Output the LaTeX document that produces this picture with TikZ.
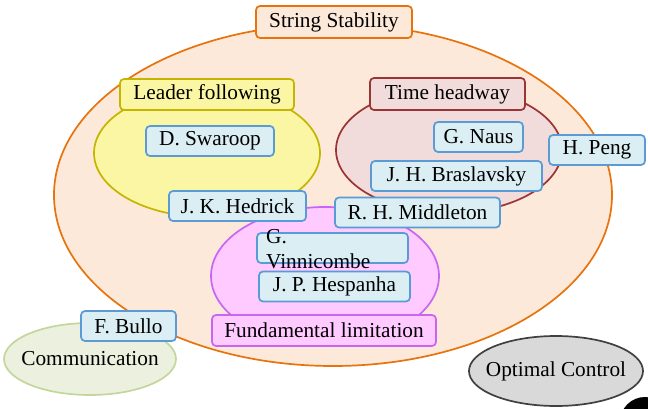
\documentclass[tikz,border=0pt]{standalone}
\usepackage{fontspec}
\setmainfont{Liberation Serif}
\usetikzlibrary{shapes.geometric}
\definecolor{naranjaBorde}{HTML}{E8720C}
\definecolor{naranjaFondo}{HTML}{FDE9D9}
\definecolor{amarilloBorde}{HTML}{C4B600}
\definecolor{amarilloFondo}{HTML}{FBF6A3}
\definecolor{rojoBorde}{HTML}{9A3533}
\definecolor{rojoFondo}{HTML}{F2DCDB}
\definecolor{rosaBorde}{HTML}{C766F5}
\definecolor{rosaFondo}{HTML}{FFCAFF}
\definecolor{azulBorde}{HTML}{5B9BD5}
\definecolor{azulFondo}{HTML}{DAEEF3}
\definecolor{verdeBorde}{HTML}{C3D69B}
\definecolor{verdeFondo}{HTML}{EBF1DE}
\definecolor{grisBorde}{HTML}{404040}
\definecolor{grisFondo}{HTML}{D9D9D9}
\tikzset{
  letraBase/.style={font=\fontsize{21.3}{25}\selectfont, text=black},
  cajaBase/.style={
    draw, line width=1.7pt, rounded corners=4pt,
    inner sep=0pt, align=center, letraBase
  },
  cajaAutor/.style={cajaBase, draw=azulBorde, fill=azulFondo,
    minimum height=30pt, minimum width=#1},
  cajaTema/.style={cajaBase, draw=#1Borde, fill=#1Fondo, minimum height=31pt},
  elipseTema/.style={ellipse, draw=#1Borde, fill=#1Fondo, line width=1.7pt,
    inner sep=0pt},
  textoElipse/.style={label={[letraBase]center:#1}},
}
\begin{document}
\begin{tikzpicture}[x=1pt, y=-1pt]
    \useasboundingbox (0,0) rectangle (648,409);

    % Conjuntos
    \node[elipseTema=naranja, minimum width=558pt, minimum height=342pt] (elipseString) at (333,195) {};
    \node[elipseTema=amarillo, minimum width=226pt, minimum height=128pt] (elipseLeader) at (207,153) {};
    \node[elipseTema=rojo, minimum width=226pt, minimum height=126pt] (elipseTime) at (449,150) {};
    \node[elipseTema=rosa, minimum width=228pt, minimum height=138pt] (elipseFund) at (325,276) {};
    \node[elipseTema=verde, minimum width=172pt, minimum height=72pt,
          textoElipse=Communication] (comunicacion) at (90,359) {};
    \node[elipseTema=gris, minimum width=174pt, minimum height=70pt,
          textoElipse=Optimal Control] (optimo) at (556,371) {};
    \node[circle, fill=black, minimum size=50pt, inner sep=0pt] (punto) at (645,422) {};

    % Etiquetas de los conjuntos
    \node[cajaTema=naranja, minimum width=156pt, minimum height=32pt] (tituloString) at (334,22) {String Stability};
    \node[cajaTema=amarillo, minimum width=174pt] (tituloLeader) at (207,94.5) {Leader following};
    \node[cajaTema=rojo, minimum width=155pt, minimum height=32pt] (tituloTime) at (447.5,94) {Time headway};
    \node[cajaTema=rosa, minimum width=224pt] (tituloFund) at (324,330.5) {Fundamental limitation};

    % Autores
    \node[cajaAutor=128pt] (swaroop) at (210,141) {D. Swaroop};
    \node[cajaAutor=89pt] (naus) at (478.5,137) {G. Naus};
    \node[cajaAutor=96pt] (peng) at (597,150) {H. Peng};
    \node[cajaAutor=171pt] (braslavsky) at (456.5,176) {J. H. Braslavsky};
    \node[cajaAutor=165pt] (middleton) at (417.5,212.5) {R. H. Middleton};
    \node[cajaAutor=137pt] (hedrick) at (237.5,206) {J. K. Hedrick};
    \node[cajaAutor=151pt] (vinnicombe) at (332.5,248) {};
    \node[letraBase, anchor=north west, inner sep=0pt, align=left] (vinnTexto) at (266,229) {G.\\Vinnicombe};
    \node[cajaAutor=151pt] (hespanha) at (334.5,286.5) {J. P. Hespanha};
    \node[cajaAutor=95pt] (bullo) at (128.5,326) {F. Bullo};
\end{tikzpicture}
\end{document}
